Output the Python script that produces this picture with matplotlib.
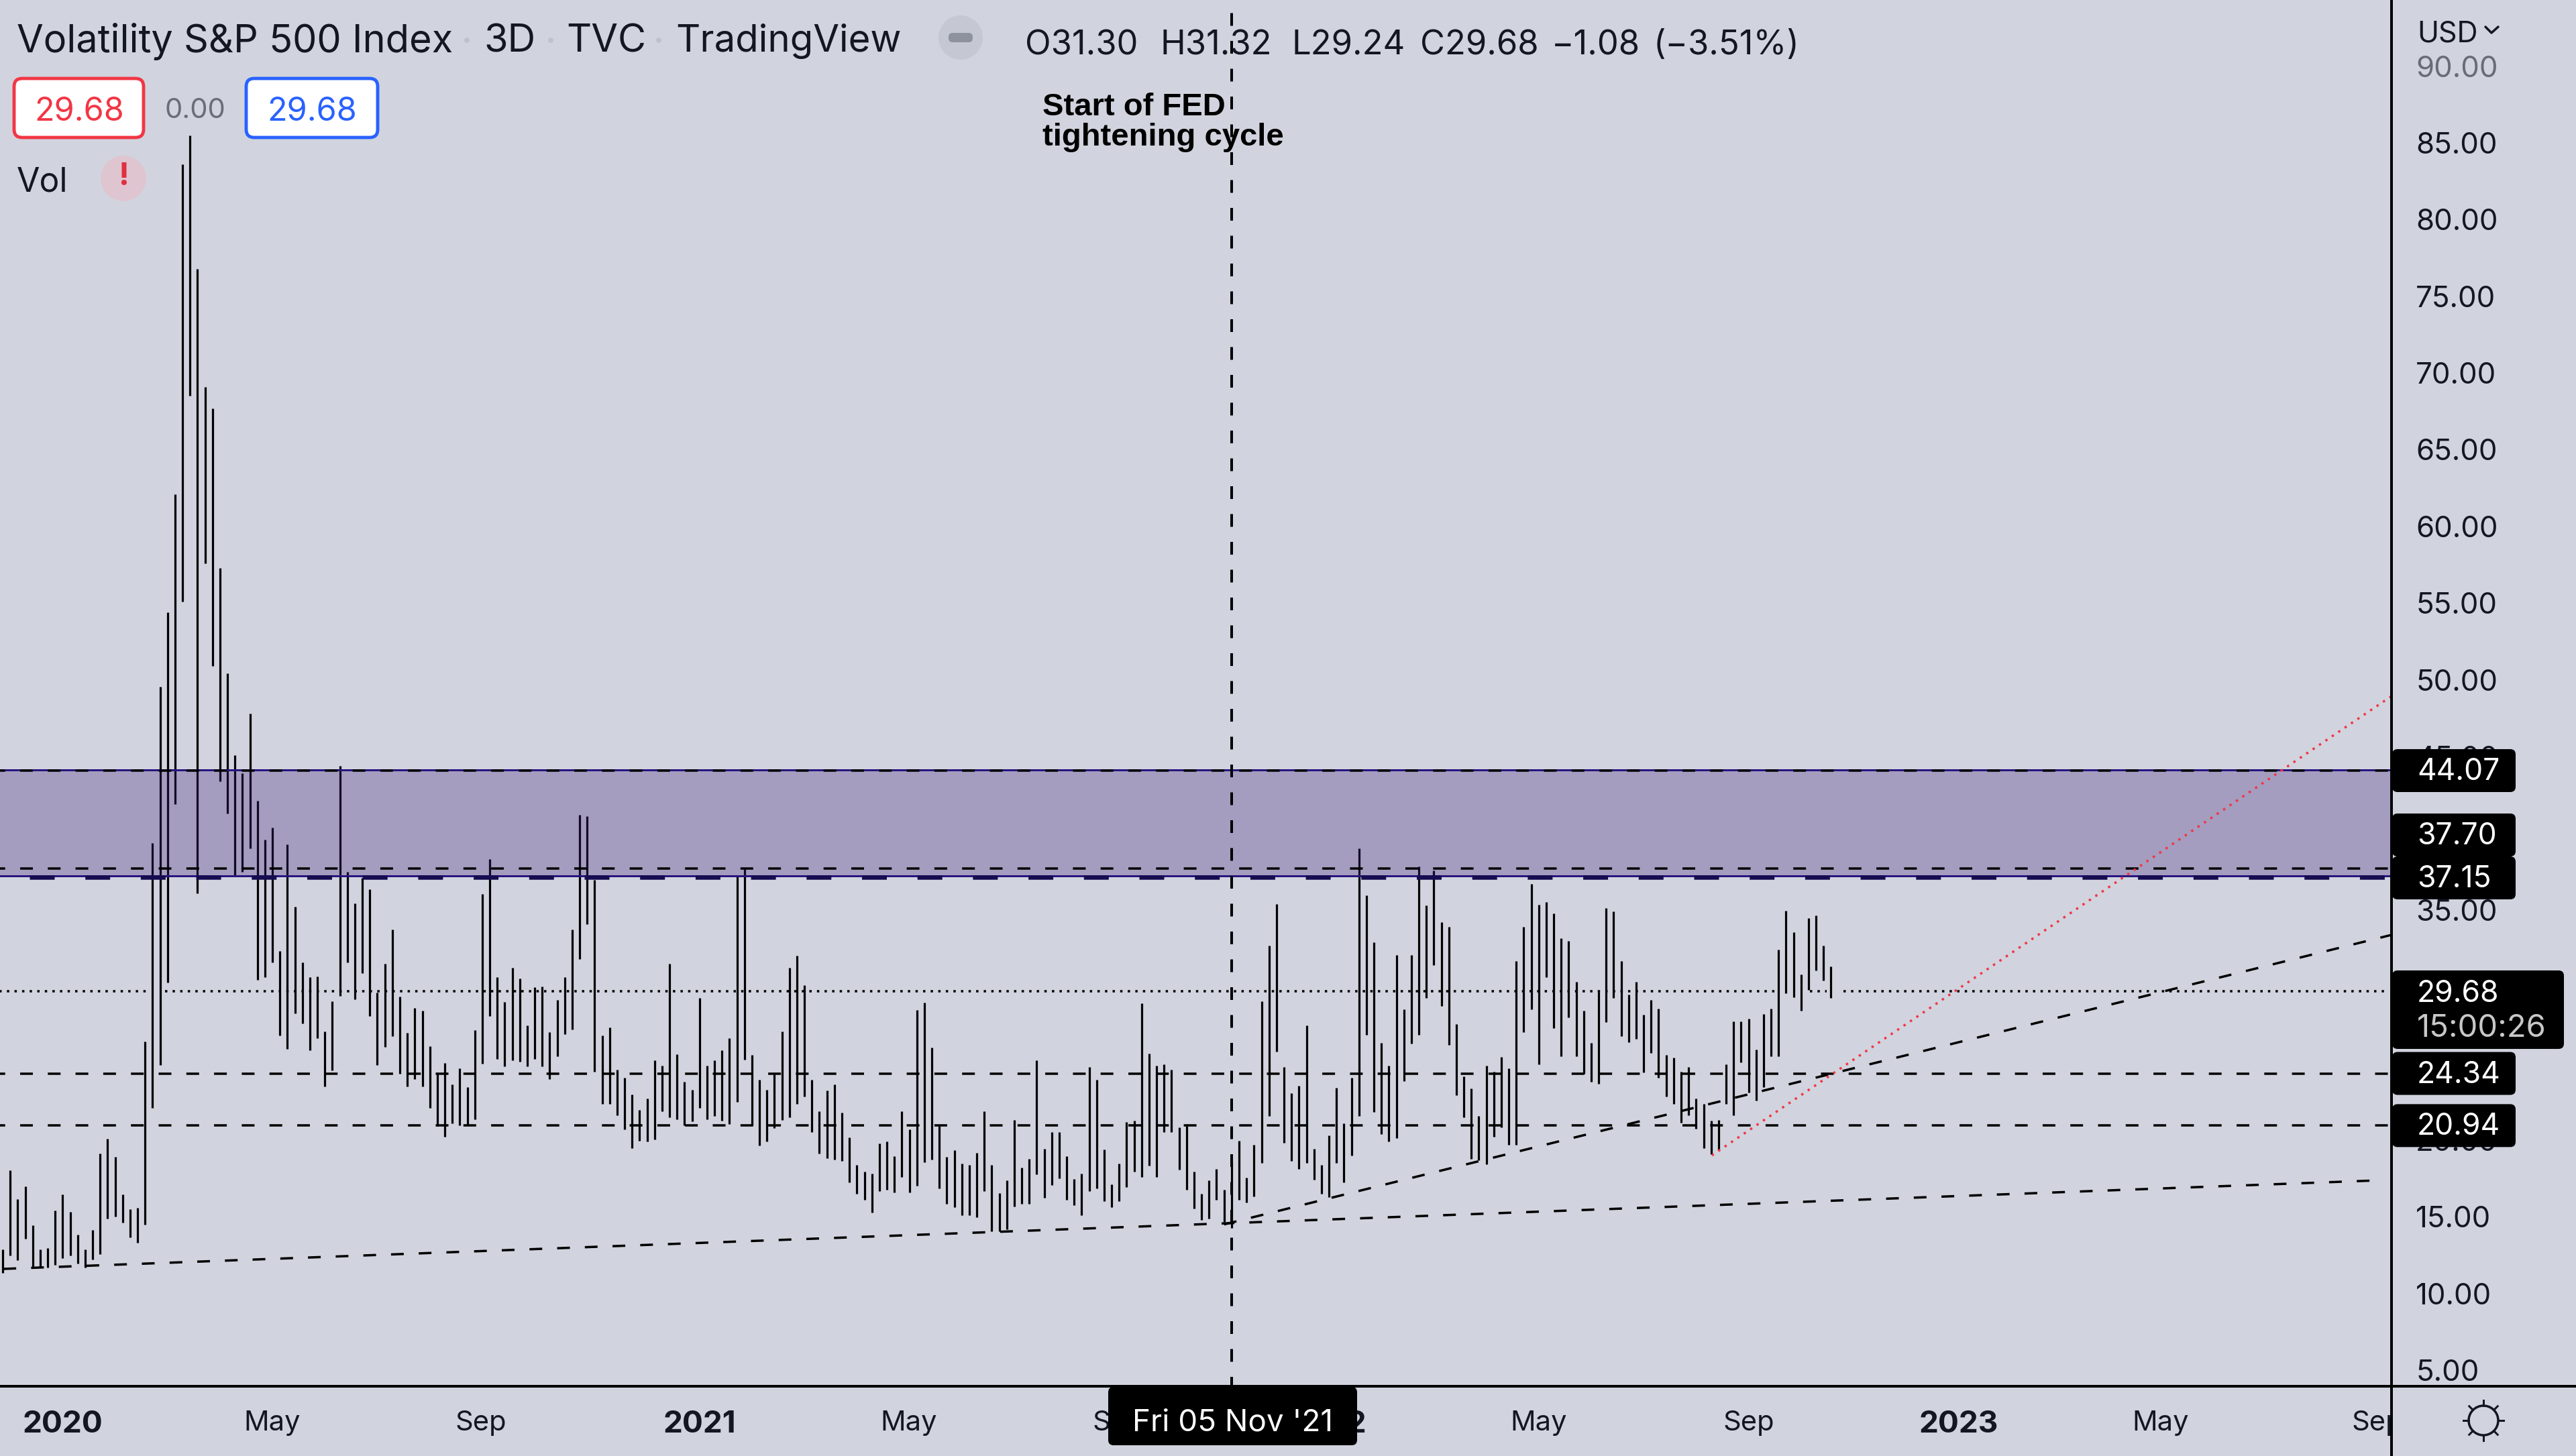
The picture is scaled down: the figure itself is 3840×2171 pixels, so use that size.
import numpy as np
import matplotlib
matplotlib.use('Agg')
import matplotlib.pyplot as plt
from matplotlib.patches import Circle, FancyBboxPatch
from matplotlib.transforms import Bbox

plt.rcParams['font.family'] = ['Inter', 'DejaVu Sans']
plt.rcParams['lines.scale_dashes'] = False

# 3D bars, oldest first
highs = [
    12.87, 18.02, 16.14, 16.97, 14.42, 12.86, 12.96, 15.41, 16.45, 15.32,
    13.84, 12.86, 14.15, 19.11, 20.07, 18.92, 16.47, 15.49, 15.57, 26.42,
    39.37, 49.55, 54.40, 62.10, 83.60, 85.50, 76.80, 69.10, 67.70, 57.30,
    50.40, 45.10, 43.90, 47.80, 42.10, 39.60, 40.35, 32.30, 39.28, 35.20,
    31.60, 30.60, 30.67, 27.07, 29.06, 44.40, 37.46, 35.44, 37.10, 36.36,
    29.62, 31.50, 33.74, 29.37, 27.00, 28.62, 28.41, 26.11, 24.33, 25.02,
    23.62, 24.69, 23.46, 27.16, 36.02, 38.32, 30.60, 28.98, 31.25, 30.52,
    27.49, 29.94, 30.02, 27.01, 29.12, 30.60, 33.74, 41.19, 41.12, 36.94,
    26.80, 27.32, 24.60, 24.04, 22.97, 21.97, 22.72, 25.19, 24.86, 31.50,
    25.61, 23.81, 23.29, 29.27, 24.86, 25.19, 25.86, 26.66, 37.26, 37.67,
    25.53, 23.94, 23.29, 24.29, 27.07, 31.25, 32.00, 30.10, 23.94, 21.89,
    23.21, 23.62, 21.80, 20.17, 18.38, 17.96, 17.79, 19.76, 19.92, 18.96,
    21.89, 20.68, 28.47, 28.95, 26.03, 20.91, 18.92, 19.34, 18.46, 18.38,
    19.17, 21.89, 18.38, 16.56, 17.39, 21.32, 18.19, 18.79, 25.19, 19.44,
    20.51, 20.51, 18.96, 17.46, 17.79, 24.77, 23.94, 19.38, 17.12, 18.46,
    21.16, 21.24, 28.89, 25.65, 24.86, 24.94, 24.60, 20.84, 20.93, 17.96,
    16.49, 17.39, 18.12, 16.74, 18.58, 19.94, 17.54, 19.67, 29.06, 32.66,
    35.39, 24.77, 23.04, 23.54, 27.49, 19.44, 18.38, 20.28, 23.39, 21.09,
    24.04, 38.99, 35.94, 32.91, 26.32, 24.86, 32.07, 28.50, 32.07, 37.82,
    35.29, 37.57, 34.22, 33.89, 27.57, 24.13, 23.35, 21.57, 24.86, 24.44,
    25.40, 24.69, 31.67, 33.89, 36.69, 35.35, 35.52, 34.79, 33.14, 32.97,
    30.29, 28.41, 26.32, 29.67, 35.12, 34.89, 31.67, 29.48, 30.29, 28.16,
    29.12, 28.54, 25.53, 25.36, 24.44, 24.77, 22.72, 22.37, 21.26, 21.32,
    24.94, 27.72, 27.72, 27.91, 25.90, 28.22, 28.54, 32.40, 34.96, 33.55,
    30.77, 34.45, 34.62, 32.66, 31.32,
]
lows = [
    11.34, 12.48, 12.17, 13.57, 11.68, 11.70, 11.70, 11.85, 12.30, 12.48,
    11.96, 11.70, 12.23, 12.58, 14.86, 14.99, 14.61, 13.65, 13.32, 14.47,
    22.10, 24.90, 30.25, 41.90, 55.10, 68.50, 36.10, 57.60, 50.90, 43.40,
    41.30, 37.20, 37.50, 39.00, 30.46, 30.60, 31.60, 26.80, 25.96, 28.26,
    27.60, 25.86, 26.63, 23.50, 24.54, 29.40, 31.60, 29.16, 30.88, 28.10,
    24.90, 26.07, 26.76, 24.30, 23.50, 23.98, 23.48, 22.10, 20.93, 20.20,
    21.10, 20.95, 20.95, 21.37, 24.96, 28.10, 25.30, 24.80, 25.20, 25.13,
    24.80, 25.30, 24.80, 23.98, 25.44, 26.90, 27.20, 31.78, 34.08, 24.46,
    22.35, 22.35, 21.60, 20.70, 19.48, 19.96, 19.90, 20.05, 21.89, 21.47,
    21.37, 20.97, 21.20, 22.10, 21.37, 21.57, 21.26, 21.03, 22.50, 25.23,
    20.95, 19.63, 19.90, 20.80, 21.30, 21.47, 22.35, 22.83, 20.53, 19.13,
    18.81, 18.71, 18.65, 17.25, 16.51, 16.10, 15.26, 16.66, 16.74, 16.58,
    17.58, 16.58, 17.00, 18.54, 18.71, 16.83, 15.83, 15.62, 15.09, 15.09,
    14.95, 16.66, 14.05, 14.05, 14.20, 15.68, 15.85, 15.85, 17.75, 16.24,
    17.08, 17.50, 16.10, 15.74, 15.11, 16.68, 16.83, 16.03, 15.62, 16.03,
    16.93, 17.92, 17.58, 18.33, 17.58, 20.53, 20.53, 18.06, 16.77, 15.53,
    14.78, 14.86, 16.10, 14.65, 14.26, 16.10, 15.93, 16.33, 18.50, 21.57,
    25.78, 19.80, 18.63, 18.12, 18.50, 17.41, 16.51, 16.26, 18.50, 17.25,
    19.00, 21.57, 26.84, 21.85, 20.38, 19.90, 20.13, 23.83, 26.28, 26.84,
    29.25, 31.40, 28.75, 26.22, 22.93, 21.47, 18.75, 18.69, 18.42, 20.20,
    20.84, 19.69, 19.69, 27.03, 28.52, 24.92, 30.63, 27.28, 25.44, 27.99,
    25.44, 24.31, 23.81, 23.66, 27.68, 29.25, 26.78, 26.36, 26.61, 24.40,
    25.69, 24.06, 22.85, 22.35, 21.11, 21.60, 20.72, 19.48, 19.06, 19.34,
    22.35, 21.60, 25.07, 23.10, 22.58, 23.46, 25.46, 25.46, 29.58, 29.31,
    28.43, 29.79, 31.05, 30.40, 29.24,
]
bars = np.arange(len(highs))

# time axis: bar number of each label
time_pos = [8, 36, 63.8, 93, 120.9, 148.9, 176.8, 205, 233, 261, 288, 316.9]
time_labels = ['2020', 'May', 'Sep', '2021', 'May', 'Sep', '2022', 'May', 'Sep', '2023', 'May', 'Sep']
year_labels = ['2020', '2021', '2022', '2023']

price_ticks = np.arange(5, 95, 5)

# drawn levels
zone_top = 44.07
zone_bottom = 37.15
level_dashed = [44.07, 37.70, 24.34, 20.94]
last_close = 29.68
close_segments = [(-1, 19.3), (21.7, 236.6), (241.2, 243.4), (245.7, 318.0)]
marker_bar = 164

trend_long_x = [0.1, 317.0]
trend_long_y = [11.60, 17.37]
trend_rising_x = [163.0, 318.8]
trend_rising_y = [14.50, 33.37]
trend_red_x = [228.1, 318.8]
trend_red_y = [19.00, 48.93]

BG = '#D1D4DE'
INK = '#131722'
px = 0.72  # one image pixel in points at dpi 100


def dash(on, off, start=0):
    return (start * px, (on * px, off * px))


fig = plt.figure(figsize=(38.4, 21.71), dpi=100, facecolor=BG)
ax = fig.add_axes([0, 104 / 2171, 3565 / 3840, 2067 / 2171], facecolor=BG)
ax.set_xlim(-0.358, 318.81)
ax.set_ylim(3.95, 94.31)

ax.vlines(bars, lows, highs, color='black', lw=3.2 * px, capstyle='butt', zorder=2)

ax.axhspan(zone_bottom, zone_top, facecolor=(60 / 255, 30 / 255, 120 / 255, 0.30), edgecolor='none', zorder=3)
for lev in [zone_top, zone_bottom]:
    ax.axhline(lev + 0.06, color='#2A1480', lw=3 * px, zorder=3.2)
ax.axhline(zone_bottom, color='#160C50', lw=6.5 * px, ls=dash(37, 45.7, 38.7), zorder=3.3)

for lev in level_dashed:
    ax.axhline(lev, color='black', lw=3.5 * px, ls=dash(19, 22.3, 11.3), zorder=3.4)

for a, b in close_segments:
    ax.plot([a, b], [last_close, last_close], color='black', lw=3.5 * px, ls=dash(3.5, 7.8), zorder=3.4)

ax.plot(trend_long_x, trend_long_y, color='black', lw=3.5 * px, ls=dash(19, 22.3), zorder=3.5)
ax.plot(trend_rising_x, trend_rising_y, color='black', lw=3.5 * px, ls=dash(19, 22.3), zorder=3.5)
ax.plot(trend_red_x, trend_red_y, color='#F23645', lw=3.5 * px, ls=dash(3.5, 8), zorder=3.6)
ax.axvline(marker_bar, color='black', lw=4 * px, ls=dash(19, 22.5, 5), zorder=3.5)

for s in ax.spines.values():
    s.set_visible(False)

ax.yaxis.tick_right()
ax.set_yticks(price_ticks)
ax.set_yticklabels(['%.2f' % v for v in price_ticks])
ax.tick_params(axis='y', length=0, pad=26, labelsize=31.5, labelcolor=INK)
ax.set_xticks(time_pos)
ax.set_xticklabels(time_labels)
ax.tick_params(axis='x', length=0, pad=26, labelsize=30, labelcolor=INK)
for lab in ax.get_xticklabels():
    if lab.get_text() in year_labels:
        lab.set_fontweight('bold')
        lab.set_fontsize(33)
ax.get_yticklabels()[-1].set_alpha(0.55)
clip = ax.get_xticklabels()[-1]
clip.set_clip_on(True)
clip.set_clip_box(Bbox([[0, 0], [3563, 2171]]))

# everything the app paints over the chart, in image pixels
ui = fig.add_axes([0, 0, 1, 1], facecolor='none')
ui.set_xlim(0, 3840)
ui.set_ylim(2171, 0)
ui.axis('off')


def to_py(v):
    return 2171 - ax.transData.transform((0, v))[1]


ui.plot([0, 3840], [2067, 2067], color='black', lw=4 * px, zorder=1)
ui.plot([3565, 3565], [0, 2171], color='black', lw=4 * px, zorder=1)


def label(x, y, s, size=35, color=INK, **kw):
    kw.setdefault('va', 'center')
    ui.text(x, y, s, fontsize=size, color=color, zorder=6, **kw)


def box(x0, y0, x1, y1, face='black', edge='none', lw=0, r=8, z=4):
    ui.add_patch(FancyBboxPatch((x0, y0), x1 - x0, y1 - y0, boxstyle='round,pad=0,rounding_size=%d' % r,
                                facecolor=face, edgecolor=edge, lw=lw, zorder=z))


# header
label(25, 62, 'Volatility S&P 500 Index', size=41.5)
label(721, 62, '3D', size=41.5)
label(844, 62, 'TVC', size=41.5)
label(1007, 62, 'TradingView', size=40.5)
for sx in [696, 821, 982]:
    ui.add_patch(Circle((sx, 60), 4, color='#BFC2CC', lw=0))
ui.add_patch(Circle((1432, 56), 33, color='#C5C8D2', lw=0))
box(1414, 49, 1450, 63, face='#8E929E', r=6)

ohlc_x = [1528, 1729, 1925, 2117, 2313, 2465]
ohlc_s = ['O31.30', 'H31.32', 'L29.24', 'C29.68', '\u22121.08', '(\u22123.51%)']
for ox, os_ in zip(ohlc_x, ohlc_s):
    label(ox, 68, os_, size=36.5)

box(21, 117, 214, 205, face='white', edge='#F23645', lw=3.5, r=12)
label(118, 167, '29.68', size=35, color='#F23645', ha='center')
label(291, 165, '0.00', size=30, color='#6A6D78', ha='center')
box(367, 117, 563, 205, face='white', edge='#2962FF', lw=3.5, r=12)
label(465, 167, '29.68', size=35, color='#2962FF', ha='center')

label(25, 272, 'Vol', size=36)
ui.add_patch(Circle((184, 266), 34, color='#DFC5D0', lw=0))
label(184, 264, '!', size=34, color='#E0303F', ha='center', fontweight='bold')

ui.text(1554, 160, 'Start of FED', fontsize=34, fontweight='bold', family='Liberation Sans', color='black', va='center', zorder=6)
ui.text(1554, 205, 'tightening cycle', fontsize=34, fontweight='bold', family='Liberation Sans', color='black', va='center', zorder=6)

label(3603, 51, 'USD', size=31)
ui.plot([3705, 3714, 3724], [40, 49, 40], color=INK, lw=3.5 * px, solid_capstyle='round')

# price tags on the scale
tag_rows = [('44.07', 1149), ('37.70', 1245), ('37.15', 1309), ('24.34', to_py(24.34)), ('20.94', to_py(20.94))]
for txt, cy in tag_rows:
    box(3566, cy - 32, 3750, cy + 32)
    label(3603, cy + 2, txt, size=32, color='white')
box(3566, 1447, 3822, 1564)
label(3603, 1482, '29.68', size=32, color='white')
label(3603, 1534, '15:00:26', size=34, color='#C8C8C8')

# crosshair date
box(1652, 2068, 2023, 2155, r=8)
label(1838, 2122, "Fri 05 Nov '21", size=33, color='white', ha='center')

# settings gear
ui.add_patch(Circle((3702, 2118), 22, facecolor='none', edgecolor=INK, lw=3.5 * px))
for ang in np.arange(0, 360, 45):
    c, s = np.cos(np.radians(ang)), np.sin(np.radians(ang))
    ui.plot([3702 + 22 * c, 3702 + 30 * c], [2118 + 22 * s, 2118 + 30 * s], color=INK, lw=3 * px)

fig.savefig('out.png', dpi=100, facecolor=BG)
